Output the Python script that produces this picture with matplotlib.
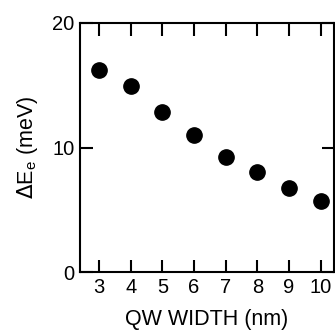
import matplotlib
matplotlib.use("Agg")
import matplotlib.pyplot as plt

plt.rcParams['font.family'] = ['Liberation Sans', 'DejaVu Sans']

qw_width = [3, 4, 5, 6, 7, 8, 9, 10]
delta_e = [16.2, 14.9, 12.85, 11.0, 9.25, 8.0, 6.75, 5.7]

fig = plt.figure(figsize=(3.35, 3.33), dpi=100)
ax = fig.add_axes([0.239, 0.183, 0.758, 0.748])

ax.plot(qw_width, delta_e, 'o', color='black', markersize=11)

ax.set_xlim(2.4, 10.42)
ax.set_ylim(0, 20)
ax.set_xticks(qw_width)
ax.set_yticks([0, 10, 20])
ax.tick_params(direction='in', length=9, width=1.5, labelsize=14.5,
               top=True, right=True, pad=4)
for s in ax.spines.values():
    s.set_linewidth(1.5)

ax.set_xlabel('QW WIDTH (nm)', fontsize=15.5, labelpad=9)
ax.set_ylabel(r'$\Delta$E$_\mathregular{e}$ (meV)', fontsize=15.5, labelpad=9)

fig.savefig('out.png', dpi=100)
